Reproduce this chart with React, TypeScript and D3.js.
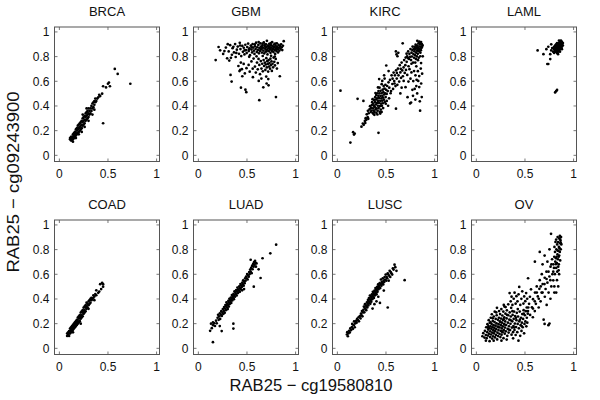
import React from "react";
import * as d3 from "d3";

type P = [number, number];

const panelTitles = ["BRCA", "GBM", "KIRC", "LAML", "COAD", "LUAD", "LUSC", "OV"];
const tickValues = [0, 0.5, 1];
const yTickValues = [0, 0.2, 0.4, 0.6, 0.8, 1];
const xLabel = "RAB25 − cg19580810";
const yLabel = "RAB25 − cg09243900";

const brca: P[] = [
[0.11,0.13],[0.11,0.14],[0.12,0.12],[0.12,0.14],[0.12,0.15],[0.13,0.12],[0.13,0.13],[0.13,0.15],[0.14,0.13],[0.14,0.15],[0.14,0.17],[0.15,0.14],[0.15,0.16],[0.15,0.18],[0.16,0.15],[0.16,0.17],[0.16,0.19],[0.17,0.16],[0.17,0.18],[0.17,0.21],[0.18,0.17],[0.18,0.2],[0.18,0.22],[0.19,0.18],[0.19,0.21],[0.19,0.24],[0.2,0.19],[0.2,0.22],[0.2,0.25],[0.21,0.2],[0.21,0.23],[0.21,0.26],[0.22,0.21],[0.22,0.24],[0.22,0.27],[0.23,0.22],[0.23,0.25],[0.23,0.28],[0.24,0.24],[0.24,0.27],[0.24,0.3],[0.25,0.25],[0.25,0.28],[0.25,0.31],[0.26,0.26],[0.26,0.29],[0.26,0.32],[0.27,0.28],[0.27,0.31],[0.27,0.34],[0.28,0.29],[0.28,0.32],[0.28,0.35],[0.29,0.3],[0.29,0.33],[0.29,0.36],[0.3,0.31],[0.3,0.34],[0.3,0.38],[0.31,0.33],[0.31,0.36],[0.32,0.34],[0.32,0.38],[0.33,0.36],[0.33,0.4],[0.34,0.38],[0.34,0.42],[0.35,0.39],[0.35,0.43],[0.36,0.41],[0.36,0.44],[0.37,0.43],[0.37,0.46],[0.38,0.44],[0.39,0.46],[0.4,0.47],[0.41,0.49],[0.42,0.48],[0.44,0.5],[0.45,0.26],[0.45,0.56],[0.48,0.55],[0.5,0.58],[0.51,0.59],[0.52,0.56],[0.57,0.7],[0.6,0.66],[0.73,0.58],[0.2,0.17],[0.23,0.19],[0.26,0.23],[0.3,0.28],[0.34,0.33],[0.36,0.37],[0.14,0.11],[0.17,0.14],[0.24,0.33],[0.28,0.38]
];

const gbm: P[] = [
[0.312,0.842],[0.327,0.893],[0.345,0.815],[0.352,0.868],[0.366,0.834],[0.378,0.902],[0.384,0.797],[0.396,0.856],[0.405,0.881],[0.418,0.823],[0.426,0.912],[0.433,0.861],[0.441,0.804],[0.452,0.887],[0.458,0.839],[0.467,0.871],[0.474,0.818],[0.483,0.896],[0.489,0.852],[0.497,0.829],[0.503,0.878],[0.512,0.906],[0.518,0.845],[0.526,0.866],[0.531,0.812],[0.539,0.889],[0.546,0.857],[0.553,0.834],[0.558,0.901],[0.564,0.873],[0.571,0.848],[0.577,0.822],[0.583,0.884],[0.589,0.862],[0.594,0.913],[0.601,0.838],[0.606,0.876],[0.612,0.853],[0.617,0.895],[0.623,0.827],[0.628,0.869],[0.633,0.846],[0.638,0.907],[0.644,0.881],[0.649,0.858],[0.654,0.833],[0.659,0.892],[0.664,0.871],[0.669,0.849],[0.673,0.915],[0.678,0.826],[0.683,0.886],[0.688,0.863],[0.692,0.841],[0.697,0.899],[0.702,0.877],[0.706,0.855],[0.711,0.818],[0.715,0.889],[0.72,0.867],[0.724,0.844],[0.729,0.904],[0.733,0.879],[0.738,0.858],[0.742,0.831],[0.746,0.893],[0.751,0.872],[0.755,0.85],[0.759,0.917],[0.764,0.884],[0.768,0.862],[0.772,0.837],[0.777,0.898],[0.781,0.875],[0.785,0.853],[0.79,0.822],[0.794,0.889],[0.798,0.867],[0.803,0.845],[0.807,0.908],[0.811,0.881],[0.816,0.859],[0.82,0.834],[0.825,0.895],[0.829,0.872],[0.834,0.849],[0.839,0.886],[0.845,0.864],[0.851,0.9],[0.857,0.876],[0.863,0.853],[0.87,0.888],[0.878,0.925],[0.62,0.918],[0.705,0.928],[0.66,0.905],[0.745,0.91],[0.79,0.905],[0.69,0.873],[0.735,0.868],[0.775,0.879],[0.81,0.87],[0.655,0.878],[0.7,0.842],[0.76,0.846],[0.8,0.858],[0.725,0.883],[0.685,0.9],[0.64,0.862],[0.58,0.9],[0.55,0.875],[0.52,0.86],[0.475,0.85],[0.43,0.89],[0.39,0.83],[0.36,0.88],[0.335,0.79],
[0.178,0.772],[0.208,0.878],[0.224,0.851],[0.255,0.822],[0.268,0.845],[0.283,0.873],[0.296,0.786],[0.302,0.901],[0.318,0.768],
[0.412,0.724],[0.423,0.683],[0.437,0.752],[0.448,0.698],[0.466,0.741],[0.478,0.664],[0.495,0.706],[0.517,0.733],[0.528,0.678],[0.546,0.761],[0.559,0.702],[0.568,0.784],[0.582,0.719],[0.591,0.671],[0.603,0.752],[0.611,0.697],[0.619,0.781],[0.627,0.733],[0.634,0.658],[0.642,0.764],[0.649,0.703],[0.657,0.742],[0.663,0.681],[0.671,0.772],[0.676,0.724],[0.684,0.751],[0.689,0.692],[0.694,0.736],[0.699,0.787],[0.704,0.712],[0.709,0.763],[0.714,0.741],[0.718,0.679],[0.723,0.772],[0.727,0.719],[0.732,0.748],[0.737,0.702],[0.741,0.783],[0.746,0.731],[0.752,0.762],[0.756,0.684],[0.763,0.742],[0.769,0.713],[0.774,0.792],[0.781,0.758],[0.788,0.729],[0.796,0.781],[0.808,0.703],[0.817,0.748],[0.838,0.641],[0.648,0.622],[0.621,0.603],[0.698,0.638],[0.719,0.618],[0.561,0.633],[0.452,0.641],[0.431,0.693],[0.523,0.798],[0.598,0.802],[0.662,0.805],[0.748,0.806],[0.786,0.801],
[0.331,0.652],[0.342,0.598],[0.438,0.548],[0.484,0.532],[0.493,0.512],[0.627,0.447],[0.798,0.472],[0.668,0.551],[0.702,0.582],[0.722,0.567]
];

const kirc: P[] = [
[0.302,0.332],[0.314,0.361],[0.322,0.341],[0.331,0.372],[0.336,0.398],[0.343,0.352],[0.347,0.384],[0.352,0.363],[0.355,0.407],[0.358,0.431],[0.363,0.343],[0.366,0.381],[0.369,0.418],[0.373,0.362],[0.376,0.401],[0.378,0.449],[0.382,0.352],[0.385,0.392],[0.387,0.433],[0.389,0.471],[0.393,0.372],[0.395,0.412],[0.397,0.452],[0.399,0.488],[0.402,0.344],[0.404,0.381],[0.407,0.423],[0.409,0.461],[0.411,0.503],[0.414,0.362],[0.416,0.402],[0.418,0.441],[0.421,0.482],[0.423,0.521],[0.425,0.383],[0.427,0.424],[0.429,0.463],[0.432,0.502],[0.434,0.548],[0.436,0.352],[0.438,0.398],[0.441,0.442],[0.443,0.481],[0.445,0.523],[0.447,0.371],[0.449,0.419],[0.452,0.462],[0.454,0.503],[0.456,0.577],[0.458,0.401],[0.461,0.443],[0.463,0.482],[0.466,0.532],[0.468,0.422],[0.471,0.468],[0.473,0.512],[0.476,0.561],[0.479,0.451],[0.482,0.493],[0.485,0.541],[0.488,0.433],[0.491,0.502],[0.494,0.572],[0.497,0.472],[0.502,0.531],[0.507,0.498],[0.512,0.562],[0.518,0.521],[0.43,0.618],[0.462,0.603],[0.486,0.622],[0.481,0.648],[0.503,0.728],[0.527,0.683],[0.508,0.441],[0.498,0.418],[0.522,0.402],[0.471,0.383],[0.441,0.338],[0.412,0.331],[0.381,0.328],[0.532,0.462],[0.548,0.503],[0.392,0.505],[0.362,0.455],[0.418,0.55],[0.372,0.335],[0.455,0.352],
[0.526,0.592],[0.534,0.548],[0.541,0.611],[0.552,0.521],[0.558,0.648],[0.566,0.578],[0.573,0.538],[0.579,0.671],[0.585,0.602],[0.592,0.648],[0.598,0.561],[0.604,0.689],[0.611,0.622],[0.617,0.571],[0.623,0.702],[0.629,0.648],[0.636,0.598],[0.642,0.731],[0.648,0.672],[0.655,0.628],[0.661,0.752],[0.668,0.688],[0.674,0.641],[0.681,0.712],[0.687,0.772],[0.693,0.668],[0.699,0.731],[0.706,0.692],[0.713,0.758],[0.719,0.652],[0.726,0.788],[0.732,0.722],[0.568,0.621],[0.612,0.668],[0.652,0.701],[0.588,0.582],
[0.248,0.232],[0.262,0.258],[0.271,0.247],[0.283,0.279],[0.291,0.301],[0.298,0.288],[0.312,0.309],[0.287,0.262],[0.318,0.296],[0.032,0.524],[0.134,0.103],[0.162,0.188],[0.171,0.168],[0.178,0.177],[0.208,0.458],[0.268,0.441],[0.423,0.182],[0.603,0.378],[0.672,0.908],[0.602,0.842],[0.608,0.818],[0.618,0.803],[0.627,0.831],
[0.718,0.803],[0.728,0.842],[0.737,0.781],[0.741,0.823],[0.749,0.798],[0.752,0.861],[0.758,0.772],[0.763,0.832],[0.767,0.801],[0.771,0.853],[0.774,0.881],[0.779,0.752],[0.782,0.821],[0.785,0.862],[0.789,0.791],[0.792,0.843],[0.795,0.879],[0.798,0.812],[0.802,0.858],[0.805,0.897],[0.808,0.781],[0.811,0.832],[0.814,0.871],[0.817,0.802],[0.821,0.848],[0.824,0.889],[0.827,0.823],[0.831,0.868],[0.834,0.908],[0.837,0.791],[0.841,0.842],[0.844,0.882],[0.847,0.861],[0.851,0.899],[0.854,0.832],[0.858,0.879],[0.861,0.918],[0.865,0.869],[0.869,0.901],[0.876,0.892],[0.843,0.921],[0.822,0.928],[0.801,0.752],[0.829,0.771],[0.852,0.803],[0.762,0.742],[0.703,0.792],[0.712,0.824],[0.793,0.861],[0.816,0.889],[0.839,0.862],[0.859,0.852],[0.872,0.879],[0.826,0.852],[0.807,0.872],[0.848,0.911],
[0.851,0.362],[0.848,0.438],[0.802,0.452],[0.758,0.428],[0.722,0.471],[0.821,0.502],[0.842,0.553],[0.781,0.602],[0.803,0.648],[0.862,0.582],[0.752,0.621],[0.701,0.552],[0.731,0.598],[0.772,0.531],[0.832,0.603],[0.789,0.683],[0.828,0.682],[0.858,0.703],[0.762,0.672],[0.812,0.721],[0.861,0.748],[0.742,0.698],[0.682,0.603],[0.661,0.548],[0.778,0.482],[0.812,0.561],[0.842,0.642],[0.872,0.662],[0.878,0.802],[0.648,0.502],[0.748,0.421],[0.868,0.472],[0.815,0.612],[0.795,0.538]
];

const laml: P[] = [
[0.79,0.84],[0.8,0.83],[0.8,0.86],[0.81,0.85],[0.81,0.87],[0.81,0.84],[0.82,0.86],[0.82,0.88],[0.82,0.84],[0.83,0.85],[0.83,0.87],[0.83,0.89],[0.84,0.86],[0.84,0.88],[0.84,0.9],[0.84,0.84],[0.85,0.87],[0.85,0.89],[0.85,0.91],[0.85,0.85],[0.86,0.88],[0.86,0.9],[0.86,0.92],[0.86,0.86],[0.87,0.89],[0.87,0.91],[0.87,0.87],[0.88,0.9],[0.88,0.92],[0.88,0.88],[0.89,0.91],[0.83,0.91],[0.82,0.9],[0.85,0.93],[0.87,0.93],[0.8,0.88],[0.79,0.87],[0.81,0.89],[0.83,0.83],[0.84,0.82],[0.86,0.84],[0.88,0.86],[0.89,0.89],
[0.63,0.85],[0.69,0.82],[0.72,0.86],[0.74,0.88],[0.73,0.74],[0.74,0.74],[0.76,0.78],[0.77,0.85],[0.78,0.87],[0.81,0.51],[0.82,0.52],[0.83,0.53],[0.76,0.82],[0.77,0.9]
];

const coad: P[] = [
[0.08,0.1],[0.08,0.12],[0.09,0.11],[0.09,0.13],[0.1,0.1],[0.1,0.12],[0.1,0.14],[0.11,0.12],[0.11,0.14],[0.11,0.16],[0.12,0.13],[0.12,0.15],[0.12,0.17],[0.13,0.14],[0.13,0.16],[0.13,0.18],[0.14,0.15],[0.14,0.17],[0.14,0.19],[0.15,0.16],[0.15,0.18],[0.15,0.2],[0.16,0.17],[0.16,0.19],[0.16,0.21],[0.17,0.18],[0.17,0.2],[0.17,0.22],[0.18,0.19],[0.18,0.21],[0.18,0.23],[0.19,0.2],[0.19,0.22],[0.19,0.25],[0.2,0.21],[0.2,0.24],[0.2,0.26],[0.21,0.22],[0.21,0.25],[0.21,0.27],[0.22,0.24],[0.22,0.26],[0.22,0.29],[0.23,0.25],[0.23,0.27],[0.23,0.3],[0.24,0.26],[0.24,0.29],[0.24,0.31],[0.25,0.28],[0.25,0.3],[0.25,0.33],[0.26,0.29],[0.26,0.31],[0.26,0.34],[0.27,0.3],[0.27,0.33],[0.27,0.35],[0.28,0.32],[0.28,0.34],[0.28,0.37],[0.29,0.33],[0.29,0.36],[0.3,0.35],[0.3,0.38],[0.31,0.36],[0.31,0.39],[0.32,0.37],[0.32,0.4],[0.33,0.39],[0.33,0.41],[0.34,0.4],[0.35,0.41],[0.35,0.43],[0.36,0.42],[0.37,0.44],[0.38,0.43],[0.38,0.47],[0.4,0.45],[0.42,0.52],[0.43,0.48],[0.44,0.53],[0.45,0.5],[0.45,0.52],[0.41,0.46],[0.36,0.39],[0.3,0.32],[0.22,0.2],[0.14,0.13]
];

const luad: P[] = [
[0.121,0.142],[0.138,0.163],[0.152,0.188],[0.163,0.204],[0.171,0.181],[0.182,0.224],[0.189,0.203],[0.198,0.248],[0.203,0.272],[0.209,0.231],[0.214,0.259],[0.221,0.284],[0.224,0.238],[0.232,0.272],[0.236,0.301],[0.241,0.263],[0.247,0.289],[0.252,0.318],[0.256,0.279],[0.262,0.302],[0.265,0.334],[0.271,0.288],[0.274,0.322],[0.278,0.351],[0.283,0.309],[0.286,0.342],[0.289,0.372],[0.294,0.331],[0.297,0.358],[0.302,0.318],[0.305,0.352],[0.308,0.384],[0.313,0.338],[0.316,0.371],[0.319,0.402],[0.323,0.359],[0.327,0.392],[0.331,0.378],[0.334,0.412],[0.338,0.368],[0.342,0.401],[0.345,0.432],[0.349,0.388],[0.353,0.421],[0.357,0.408],[0.361,0.441],[0.366,0.398],[0.369,0.432],[0.372,0.462],[0.377,0.418],[0.381,0.452],[0.386,0.439],[0.389,0.472],[0.394,0.428],[0.398,0.461],[0.402,0.492],[0.407,0.448],[0.411,0.478],[0.416,0.468],[0.421,0.502],[0.426,0.458],[0.429,0.488],[0.433,0.521],[0.438,0.478],[0.442,0.509],[0.447,0.498],[0.452,0.532],[0.457,0.518],[0.461,0.551],[0.466,0.508],[0.471,0.542],[0.476,0.528],[0.481,0.568],[0.486,0.548],[0.491,0.582],[0.497,0.568],[0.502,0.602],[0.507,0.558],[0.512,0.592],[0.518,0.581],[0.523,0.618],[0.528,0.602],[0.533,0.638],[0.538,0.621],[0.543,0.652],[0.548,0.609],[0.553,0.668],[0.558,0.641],[0.563,0.682],[0.568,0.662],[0.573,0.698],[0.578,0.678],[0.583,0.708],[0.588,0.692],[0.538,0.718],[0.598,0.688],[0.592,0.662],
[0.15,0.05],[0.13,0.2],[0.15,0.21],[0.24,0.14],[0.22,0.18],[0.36,0.2],[0.36,0.16],[0.57,0.5],[0.64,0.57],[0.66,0.73],[0.74,0.77],[0.8,0.84],[0.62,0.64],[0.47,0.48],[0.45,0.47]
];

const lusc: P[] = [
[0.098,0.112],[0.102,0.131],[0.108,0.098],[0.113,0.121],[0.121,0.142],[0.128,0.129],[0.133,0.161],[0.142,0.148],[0.149,0.172],[0.153,0.198],[0.161,0.158],[0.168,0.188],[0.172,0.218],[0.179,0.171],[0.184,0.202],[0.191,0.222],[0.198,0.208],[0.203,0.238],[0.211,0.228],[0.218,0.252],[0.222,0.219],[0.231,0.262],[0.238,0.242],[0.243,0.281],[0.249,0.268],[0.253,0.302],[0.258,0.259],[0.263,0.291],[0.268,0.312],[0.273,0.338],[0.277,0.292],[0.281,0.328],[0.284,0.358],[0.289,0.318],[0.293,0.348],[0.297,0.309],[0.301,0.341],[0.304,0.372],[0.308,0.331],[0.312,0.362],[0.315,0.392],[0.319,0.348],[0.322,0.381],[0.325,0.408],[0.329,0.368],[0.332,0.398],[0.335,0.428],[0.339,0.361],[0.342,0.392],[0.345,0.418],[0.349,0.378],[0.352,0.408],[0.355,0.438],[0.359,0.398],[0.362,0.428],[0.365,0.458],[0.369,0.418],[0.372,0.448],[0.376,0.408],[0.379,0.438],[0.382,0.468],[0.386,0.428],[0.389,0.458],[0.392,0.488],[0.396,0.448],[0.399,0.478],[0.403,0.438],[0.406,0.468],[0.409,0.498],[0.413,0.458],[0.416,0.488],[0.419,0.518],[0.423,0.478],[0.426,0.508],[0.431,0.498],[0.435,0.528],[0.441,0.488],[0.445,0.518],[0.448,0.558],[0.453,0.508],[0.457,0.538],[0.463,0.528],[0.467,0.568],[0.472,0.518],[0.476,0.548],[0.482,0.538],[0.486,0.578],[0.492,0.558],[0.497,0.598],[0.503,0.548],[0.507,0.578],[0.513,0.568],[0.518,0.608],[0.524,0.598],[0.533,0.588],[0.538,0.628],[0.544,0.578],[0.549,0.618],[0.556,0.608],[0.564,0.598],[0.571,0.648],[0.578,0.638],[0.588,0.678],[0.596,0.658],[0.608,0.628],[0.692,0.552],[0.518,0.331],[0.438,0.368],[0.402,0.381],[0.381,0.358],[0.362,0.322],[0.421,0.418],[0.478,0.468],[0.528,0.548]
];

const ov: P[] = [
[0.062,0.098],[0.071,0.123],[0.083,0.087],[0.088,0.142],[0.097,0.108],[0.101,0.171],[0.106,0.082],[0.112,0.131],[0.114,0.196],[0.119,0.103],[0.122,0.152],[0.124,0.181],[0.127,0.228],[0.131,0.118],[0.133,0.163],[0.136,0.058],[0.138,0.207],[0.141,0.091],[0.143,0.138],[0.146,0.178],[0.148,0.248],[0.152,0.112],[0.154,0.158],[0.157,0.197],[0.159,0.276],[0.162,0.079],[0.164,0.128],[0.167,0.171],[0.169,0.221],[0.172,0.098],[0.174,0.147],[0.177,0.188],[0.179,0.258],[0.182,0.121],[0.184,0.166],[0.187,0.213],[0.189,0.297],[0.192,0.088],[0.194,0.139],[0.197,0.184],[0.199,0.238],[0.202,0.108],[0.204,0.157],[0.207,0.203],[0.209,0.268],[0.212,0.328],[0.214,0.072],[0.217,0.127],[0.219,0.176],[0.222,0.231],[0.224,0.099],[0.227,0.148],[0.229,0.196],[0.232,0.248],[0.234,0.302],[0.237,0.118],[0.239,0.169],[0.242,0.219],[0.244,0.278],[0.247,0.091],[0.249,0.142],[0.252,0.188],[0.254,0.241],[0.257,0.318],[0.259,0.111],[0.262,0.161],[0.264,0.208],[0.267,0.266],[0.269,0.131],[0.272,0.178],[0.274,0.229],[0.277,0.298],[0.279,0.082],[0.282,0.148],[0.284,0.197],[0.287,0.252],[0.289,0.338],[0.292,0.119],[0.294,0.168],[0.297,0.218],[0.299,0.281],[0.303,0.138],[0.307,0.189],[0.311,0.242],[0.314,0.308],[0.318,0.101],[0.321,0.158],[0.325,0.208],[0.328,0.268],[0.332,0.128],[0.336,0.179],[0.339,0.232],[0.343,0.291],[0.347,0.148],[0.351,0.199],[0.354,0.258],[0.358,0.328],[0.362,0.111],[0.366,0.168],[0.369,0.219],[0.373,0.271],[0.377,0.131],[0.381,0.181],[0.384,0.238],[0.388,0.298],[0.392,0.148],[0.396,0.201],[0.399,0.262],[0.404,0.108],[0.408,0.172],[0.412,0.228],[0.416,0.288],[0.421,0.131],[0.425,0.198],[0.429,0.258],[0.433,0.062],[0.437,0.162],[0.441,0.219],[0.446,0.298],[0.451,0.101],[0.455,0.188],[0.459,0.248],[0.464,0.141],[0.468,0.208],[0.472,0.278],[0.477,0.171],[0.481,0.238],[0.486,0.309],[0.491,0.122],[0.495,0.198],[0.499,0.268],[0.504,0.218],[0.509,0.301],[0.514,0.178],[0.519,0.248],[0.524,0.208],[0.529,0.281],[0.534,0.331],
[0.145,0.212],[0.168,0.243],[0.186,0.142],[0.205,0.291],[0.228,0.172],[0.246,0.213],[0.263,0.138],[0.281,0.236],[0.296,0.191],[0.316,0.271],[0.334,0.152],[0.352,0.228],[0.371,0.301],[0.389,0.168],[0.407,0.247],[0.426,0.318],[0.448,0.232],[0.466,0.181],[0.488,0.281],[0.178,0.062],[0.258,0.062],[0.118,0.168],[0.098,0.062],[0.312,0.071],[0.378,0.081],
[0.282,0.352],[0.301,0.334],[0.328,0.357],[0.342,0.448],[0.353,0.381],[0.362,0.419],[0.371,0.352],[0.384,0.402],[0.393,0.451],[0.404,0.362],[0.412,0.423],[0.423,0.381],[0.434,0.438],[0.441,0.498],[0.452,0.352],[0.463,0.401],[0.472,0.462],[0.484,0.363],[0.492,0.421],[0.503,0.382],[0.512,0.448],[0.518,0.331],[0.523,0.402],[0.531,0.302],[0.542,0.361],[0.551,0.418],[0.532,0.568],[0.562,0.478],[0.553,0.271],[0.572,0.332],[0.583,0.398],[0.581,0.252],[0.601,0.302],[0.603,0.452],[0.612,0.361],[0.621,0.502],[0.632,0.421],[0.641,0.331],[0.648,0.482],[0.652,0.552],[0.661,0.381],[0.671,0.452],[0.673,0.601],[0.682,0.521],[0.692,0.232],[0.702,0.198],[0.704,0.418],[0.703,0.572],[0.712,0.481],[0.721,0.621],[0.723,0.352],[0.731,0.532],[0.741,0.188],[0.752,0.201],[0.743,0.452],[0.751,0.582],[0.762,0.402],[0.763,0.662],[0.771,0.502],[0.782,0.601],[0.779,0.722],[0.791,0.551],[0.802,0.452],[0.798,0.652],[0.602,0.702],[0.652,0.781],[0.681,0.681],[0.702,0.752],[0.731,0.702],[0.752,0.802],[0.768,0.928],
[0.792,0.681],[0.801,0.742],[0.803,0.822],[0.808,0.601],[0.812,0.702],[0.809,0.781],[0.814,0.862],[0.821,0.652],[0.818,0.731],[0.823,0.802],[0.821,0.881],[0.829,0.552],[0.832,0.621],[0.828,0.691],[0.834,0.761],[0.831,0.842],[0.836,0.902],[0.842,0.662],[0.839,0.722],[0.844,0.791],[0.841,0.861],[0.851,0.601],[0.848,0.681],[0.852,0.752],[0.849,0.822],[0.853,0.891],[0.862,0.712],[0.858,0.781],[0.863,0.852],[0.859,0.912],[0.868,0.802],[0.866,0.871],[0.874,0.842],[0.871,0.902],[0.842,0.502],[0.821,0.452],[0.802,0.502],[0.791,0.621],[0.772,0.681],[0.761,0.552],[0.742,0.621],[0.722,0.562],[0.701,0.521],[0.681,0.452],[0.662,0.502],[0.642,0.402],[0.622,0.452],[0.601,0.381],[0.582,0.322],[0.856,0.812],[0.847,0.742],[0.862,0.882],[0.835,0.792],[0.826,0.742],[0.869,0.852],[0.818,0.682],[0.846,0.632]
];

const panelData: P[][] = [brca, gbm, kirc, laml, coad, luad, lusc, ov];

const FONT = "'Liberation Sans', Arial, Helvetica, sans-serif";

export default function App() {
  const W = 600, H = 400;
  const colLeft = [54.5, 193.5, 332.5, 471.5];
  const rowTop = [27, 220];
  const pw = 105, ph = 134.5;
  const tick = 3;
  const frame = "#555";

  return (
    <svg width={W} height={H} style={{ position: "absolute", left: 0, top: 0, background: "#fff" }}>
      <rect x={0} y={0} width={W} height={H} fill="#fff" />
      {panelData.map((pts, i) => {
        const c = i % 4, r = Math.floor(i / 4);
        const L = colLeft[c], T = rowTop[r];
        const x = d3.scaleLinear().domain([-0.05, 1.03]).range([L, L + pw]);
        const y = d3.scaleLinear().domain([-0.05, 1.04]).range([T + ph, T]);
        return (
          <g key={i}>
            <text x={L + pw / 2} y={T - 11} textAnchor="middle" fontFamily={FONT} fontSize={13} fill="#111">{panelTitles[i]}</text>
            {tickValues.map(t => (
              <g key={"x" + t}>
                <line x1={x(t)} x2={x(t)} y1={T + ph} y2={T + ph - tick} stroke={frame} strokeWidth={0.8} />
                <line x1={x(t)} x2={x(t)} y1={T} y2={T + tick} stroke={frame} strokeWidth={0.8} />
                <text x={x(t)} y={T + ph + 16.5} textAnchor="middle" fontFamily={FONT} fontSize={12} fill="#111">{String(t)}</text>
              </g>
            ))}
            {yTickValues.map(t => (
              <g key={"y" + t}>
                <line x1={L} x2={L + tick} y1={y(t)} y2={y(t)} stroke={frame} strokeWidth={0.8} />
                <line x1={L + pw} x2={L + pw - tick} y1={y(t)} y2={y(t)} stroke={frame} strokeWidth={0.8} />
                <text x={L - 5} y={y(t)} dy="0.36em" textAnchor="end" fontFamily={FONT} fontSize={12} fill="#111">{String(t)}</text>
              </g>
            ))}
            <rect x={L} y={T} width={pw} height={ph} fill="none" stroke={frame} strokeWidth={1} />
            {pts.map((p, k) => (
              <circle key={k} cx={x(p[0])} cy={y(p[1])} r={1.35} fill="#000" />
            ))}
          </g>
        );
      })}
      <text x={311} y={390.5} textAnchor="middle" fontFamily={FONT} fontSize={17} textLength={163} lengthAdjust="spacingAndGlyphs" fill="#111">{xLabel}</text>
      <text transform="translate(18.5,182) rotate(-90)" textAnchor="middle" fontFamily={FONT} fontSize={17} textLength={181} lengthAdjust="spacingAndGlyphs" fill="#111">{yLabel}</text>
    </svg>
  );
}
